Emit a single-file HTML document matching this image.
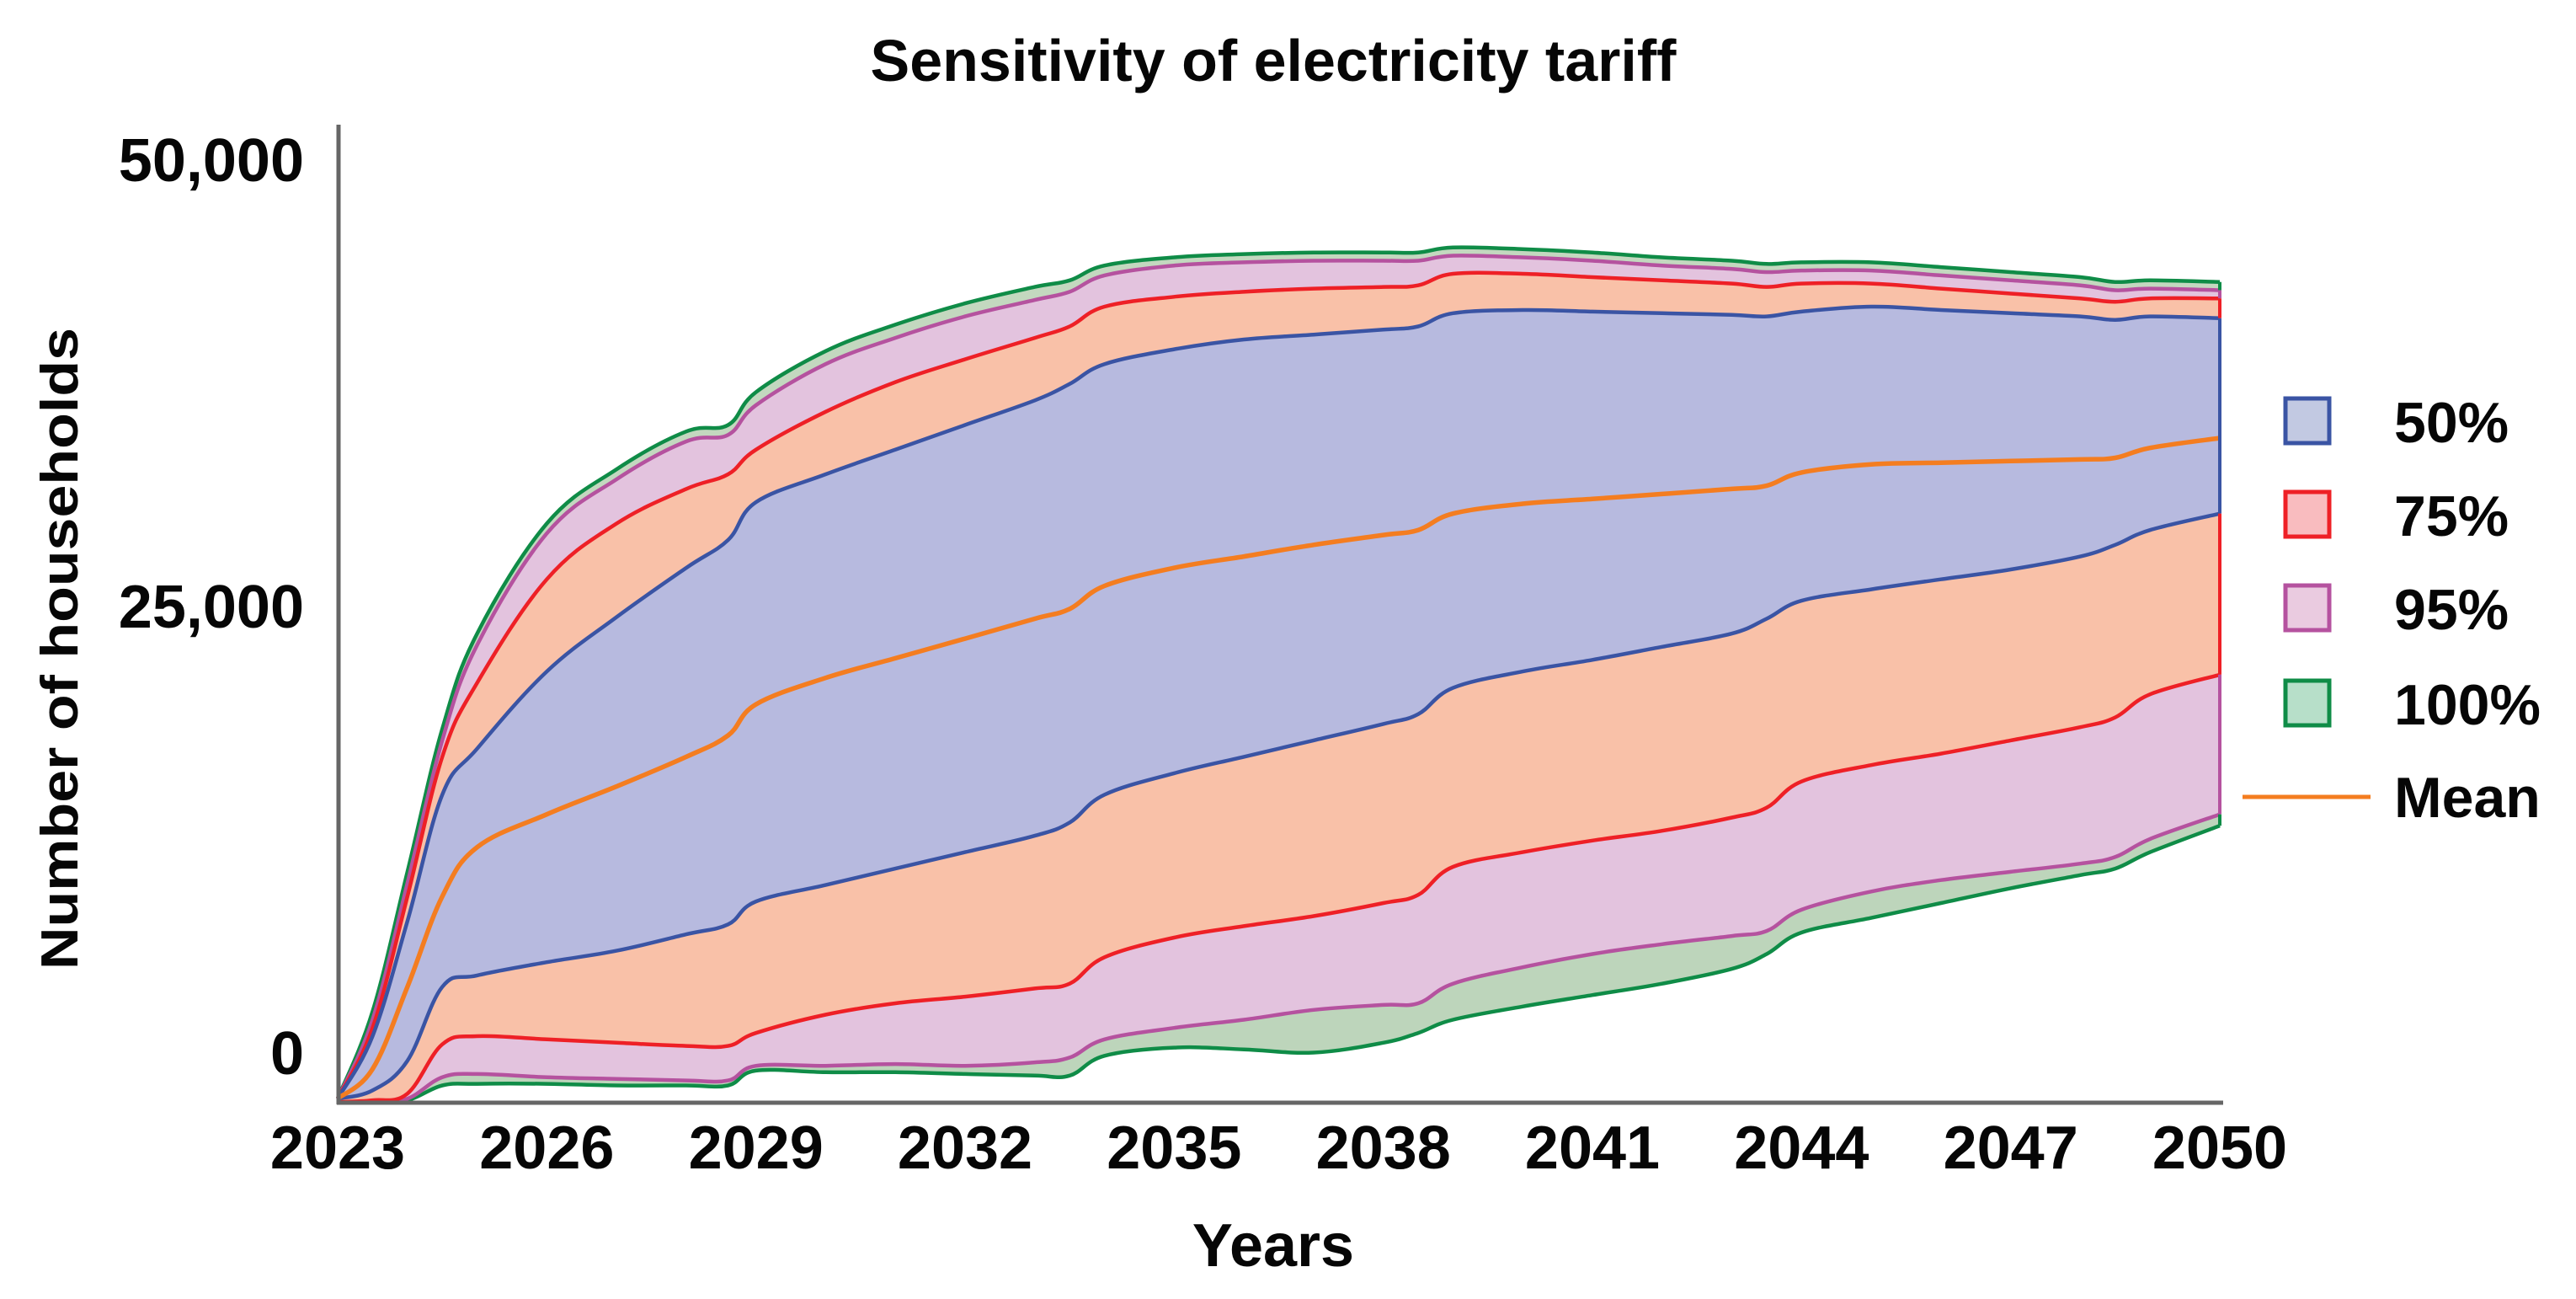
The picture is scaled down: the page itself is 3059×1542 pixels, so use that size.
<!DOCTYPE html>
<html><head><meta charset="utf-8"><style>
html,body{margin:0;padding:0;background:#fff}
svg{display:block}
text{font-family:"Liberation Sans",Arial,sans-serif;font-weight:bold;fill:#060606}
</style></head><body>
<svg id="chart" width="3059" height="1542" viewBox="0 0 3059 1542" xmlns="http://www.w3.org/2000/svg">
<text x="1512" y="96" font-size="70" text-anchor="middle">Sensitivity of electricity tariff</text>
<text transform="translate(92,770) rotate(-90)" font-size="62" text-anchor="middle" textLength="762" lengthAdjust="spacingAndGlyphs">Number of households</text>
<text x="1512" y="1503" font-size="72" text-anchor="middle">Years</text>
<g id="bands"></g>
<g id="lines"></g>
<line x1="402" y1="148" x2="402" y2="1311" stroke="#666" stroke-width="5"/>
<line x1="400" y1="1309" x2="2640" y2="1309" stroke="#666" stroke-width="5"/>
<g id="yticks"></g>
<g id="xticks"></g>
<g>
 <g><rect x="2714" y="473" width="52" height="53" fill="#c2c9e2" stroke="#3a54a4" stroke-width="5"/><text x="2843" y="525" font-size="68">50%</text></g>
 <g><rect x="2714" y="584" width="52" height="53" fill="#f9bcbf" stroke="#ee2026" stroke-width="5"/><text x="2843" y="636" font-size="68">75%</text></g>
 <g><rect x="2714" y="695" width="52" height="53" fill="#eacbe0" stroke="#b5529f" stroke-width="5"/><text x="2843" y="747" font-size="68">95%</text></g>
 <g><rect x="2714" y="808" width="52" height="53" fill="#b7dfc9" stroke="#0f8c47" stroke-width="5"/><text x="2843" y="860" font-size="68">100%</text></g>
 <g><line x1="2663" y1="946" x2="2815" y2="946" stroke="#f47d20" stroke-width="5"/><text x="2843" y="970" font-size="68">Mean</text></g>
</g>
</svg>
<script>
const years = [2023,2023.5,2024,2024.5,2025,2026,2027,2028,2028.6,2029,2030,2031,2032,2033,2033.5,2034,2035,2036,2037,2038,2038.5,2039,2040,2041,2042,2043,2043.5,2044,2045,2046,2047,2048,2048.5,2049,2050];
const upper100 = [184,5060,12880,20880,26220,32380,35420,37540,37900,39740,42040,43520,44710,45630,46000,46830,47290,47470,47560,47560,47560,47840,47750,47560,47290,47100,46920,47010,47010,46740,46460,46180,45910,46000,45910];
const upper95 = [184,4600,12240,20240,25580,31830,34860,36980,37350,39010,41310,42780,43980,44900,45360,46280,46830,47010,47100,47100,47100,47380,47290,47100,46830,46640,46460,46550,46550,46280,46000,45720,45450,45540,45450];
const upper75 = [184,4140,11500,19320,23460,29260,32380,34320,35140,36520,38640,40300,41580,42780,43420,44530,45080,45360,45540,45630,45720,46370,46370,46180,46000,45820,45630,45820,45820,45540,45260,44990,44800,44990,44990];
const upper50 = [184,3680,10120,17200,19780,24100,27140,29900,31460,33580,35140,36520,37900,39280,40200,41310,42140,42690,42960,43240,43420,44160,44340,44250,44160,44070,43980,44250,44530,44340,44160,43980,43790,43980,43880];
const meanValues = [184,1840,6440,11500,14260,16100,17660,19320,20520,22260,23740,24840,25940,27050,27600,28890,29900,30540,31190,31740,32020,32940,33490,33760,34040,34320,34500,35240,35700,35790,35880,35970,36060,36620,37170];
const lower50 = [184,640,2300,6440,7080,7820,8460,9380,9940,11220,12140,13060,13980,14900,15640,17200,18400,19320,20240,21160,21710,23180,24100,24750,25480,26220,27050,28060,28700,29260,29810,30540,31190,32020,32940];
const lower75 = [0,90,460,3220,3680,3500,3310,3130,3130,3860,4880,5520,5890,6350,6620,8100,9200,9840,10400,11130,11590,13160,13980,14630,15180,15920,16470,17940,18860,19500,20240,20980,21530,22820,23920];
const lower95 = [0,0,180,1380,1560,1380,1290,1200,1200,2020,2020,2120,2020,2210,2480,3500,4140,4600,5150,5430,5520,6620,7540,8280,8830,9290,9570,10760,11780,12420,12880,13340,13710,14720,16100];
const lower100 = [0,0,90,920,1010,1010,920,920,920,1750,1660,1660,1560,1470,1470,2580,3040,2940,2760,3310,3860,4600,5340,5980,6620,7450,8280,9480,10300,11130,11960,12700,13060,13980,15460];
const yTickValues = [0,25000,50000];
const yTickLabels = ["0","25,000","50,000"];
const xTickYears = [2023,2026,2029,2032,2035,2038,2041,2044,2047,2050];

const NS = "http://www.w3.org/2000/svg";
const X0 = 401, X1 = 2636, Y0 = 1308, PXPER = 530/25000;
function xs(yr){ return X0 + (yr-2023)*(X1-X0)/27; }
function ys(v){ return Y0 - v*PXPER; }
function coords(arr){ return arr.map((v,i)=>[xs(years[i]), ys(v)]); }
// Catmull-Rom smoothed path segment (without initial M)
function smooth(p){
  let d = "";
  for(let i=0;i<p.length-1;i++){
    const p0=p[Math.max(0,i-1)], p1=p[i], p2=p[i+1], p3=p[Math.min(p.length-1,i+2)];
    const t=0.18;
    const c1x=p1[0]+(p2[0]-p0[0])*t, c1y=p1[1]+(p2[1]-p0[1])*t;
    const c2x=p2[0]-(p3[0]-p1[0])*t, c2y=p2[1]-(p3[1]-p1[1])*t;
    d += " C"+c1x.toFixed(1)+","+c1y.toFixed(1)+" "+c2x.toFixed(1)+","+c2y.toFixed(1)+" "+p2[0].toFixed(1)+","+p2[1].toFixed(1);
  }
  return d;
}
function linePath(arr){ const p=coords(arr); return "M"+p[0][0].toFixed(1)+","+p[0][1].toFixed(1)+smooth(p); }
function bandPath(a,b){
  const pa=coords(a), pb=coords(b).reverse();
  return "M"+pa[0][0]+","+pa[0][1]+smooth(pa)+" L"+pb[0][0]+","+pb[0][1]+smooth(pb)+" Z";
}

const bandsG = document.getElementById('bands');
const bands = [
 [upper100, upper95, '#c3d8bf','band-100-upper'],
 [upper95, upper75, '#e3c3de','band-95-upper'],
 [upper75, upper50, '#f9c1a8','band-75-upper'],
 [upper50, lower50, '#b7badf','band-50'],
 [lower50, lower75, '#f9c1a8','band-75-lower'],
 [lower75, lower95, '#e3c3de','band-95-lower'],
 [lower95, lower100, '#bdd5bb','band-100-lower']
];
bands.forEach(b=>{
  const p = document.createElementNS(NS,'path');
  p.setAttribute('d', bandPath(b[0], b[1]));
  p.setAttribute('fill', b[2]);
  
  
  bandsG.appendChild(p);
});

const linesG = document.getElementById('lines');
const lines = [
 [upper100,'#0f8c47',4.5,'line-100-upper'],
 [lower100,'#0f8c47',4.5,'line-100-lower'],
 [upper95,'#b5529f',4.5,'line-95-upper'],
 [lower95,'#b5529f',4.5,'line-95-lower'],
 [upper75,'#ee2026',4.5,'line-75-upper'],
 [lower75,'#ee2026',4.5,'line-75-lower'],
 [upper50,'#3a54a4',4.5,'line-50-upper'],
 [lower50,'#3a54a4',4.5,'line-50-lower'],
 [meanValues,'#f47d20',5.5,'line-mean']
];
lines.forEach(l=>{
  const p = document.createElementNS(NS,'path');
  p.setAttribute('d', linePath(l[0]));
  p.setAttribute('fill','none');
  p.setAttribute('stroke', l[1]);
  p.setAttribute('stroke-width', l[2]);
  p.setAttribute('stroke-linejoin','round');
  
  
  linesG.appendChild(p);
});
const last = years.length-1;
const edges = [
 [upper100,upper95,'#0f8c47'],[upper95,upper75,'#b5529f'],[upper75,upper50,'#ee2026'],
 [upper50,lower50,'#3a54a4'],[lower50,lower75,'#ee2026'],[lower75,lower95,'#b5529f'],[lower95,lower100,'#0f8c47']
];
edges.forEach(e=>{
  const l = document.createElementNS(NS,'line');
  l.setAttribute('x1', xs(years[last])); l.setAttribute('x2', xs(years[last]));
  l.setAttribute('y1', ys(e[0][last])); l.setAttribute('y2', ys(e[1][last]));
  l.setAttribute('stroke', e[2]); l.setAttribute('stroke-width', 4);
  
  
  linesG.appendChild(l);
});

const yg = document.getElementById('yticks');
yTickValues.forEach((v,i)=>{
  const t = document.createElementNS(NS,'text');
  t.setAttribute('x', 361);
  t.setAttribute('y', ys(v) - 59 + 26);
  t.setAttribute('font-size', 72);
  t.setAttribute('text-anchor','end');
  t.textContent = yTickLabels[i];
  
  
  yg.appendChild(t);
});
const xg = document.getElementById('xticks');
xTickYears.forEach(yr=>{
  const t = document.createElementNS(NS,'text');
  t.setAttribute('x', xs(yr));
  t.setAttribute('y', 1387);
  t.setAttribute('font-size', 72);
  t.setAttribute('text-anchor','middle');
  t.textContent = String(yr);
  
  
  xg.appendChild(t);
});
</script>
</body></html>
